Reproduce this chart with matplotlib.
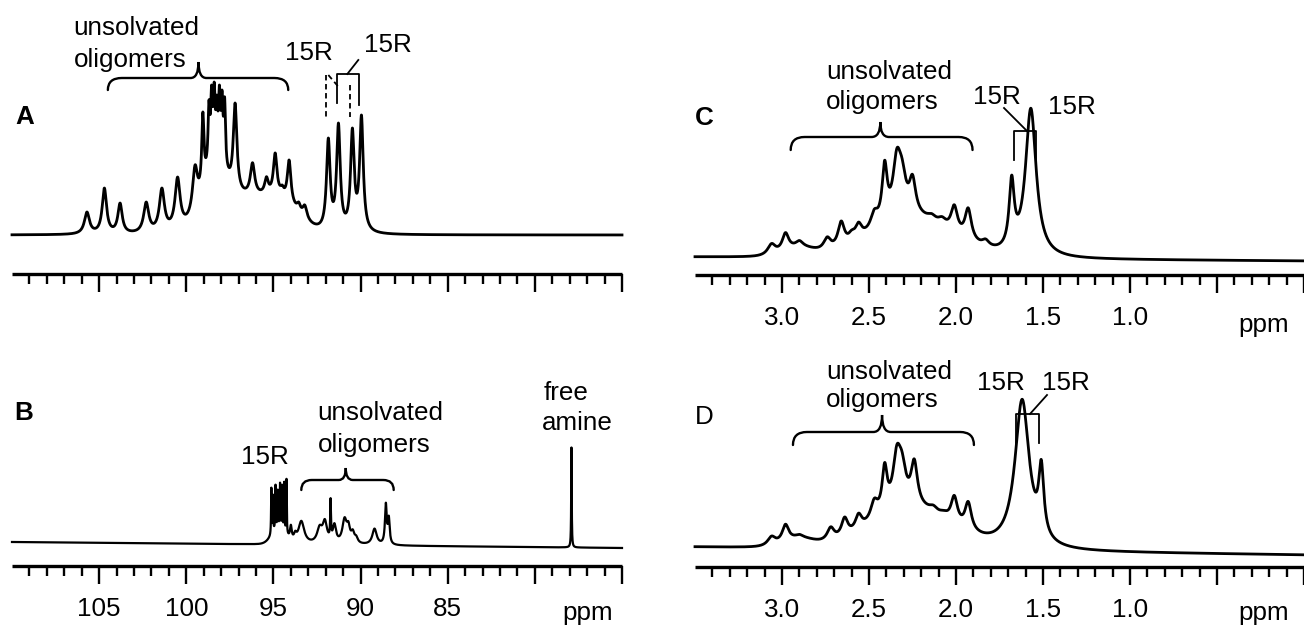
import matplotlib
matplotlib.use("Agg")
import matplotlib.pyplot as plt
import numpy as np
from matplotlib.path import Path
from matplotlib.patches import PathPatch
from matplotlib.ticker import FixedLocator

plt.rcParams['font.family'] = ['Liberation Sans', 'DejaVu Sans']

# ---- peak tables (ppm, apparent height above baseline, line width in ppm) ----
# 13C, panel A
a_ppm = [105.7, 104.7, 103.8, 102.3, 101.4, 100.5, 99.5, 99.05, 98.7, 98.55, 98.4, 98.25,
         98.1, 97.95, 97.8, 97.2, 96.2, 95.8, 95.4, 94.9, 94.5, 94.1, 93.55, 93.2,
         91.85, 91.27, 90.47, 89.95]
a_height = [23, 47, 32, 33, 47, 58, 70, 123, 135, 150, 153, 140, 150, 145,
            138, 132, 72, 42, 58, 82, 50, 75, 33, 30,
            97, 112, 107, 120]
a_width = [0.35, 0.3, 0.3, 0.35, 0.35, 0.35, 0.35, 0.15, 0.12, 0.12, 0.12, 0.12, 0.12, 0.12,
           0.12, 0.25, 0.3, 0.25, 0.25, 0.25, 0.25, 0.25, 0.25, 0.3,
           0.25, 0.25, 0.25, 0.25]
a_hump_ppm = [97.0, 94.5, 98.4]
a_hump_height = [35, 22, 45]
a_hump_width = [4.0, 2.5, 1.4]

# 13C, panel B
b_ppm = [95.12, 95.03, 94.88, 94.75, 94.62, 94.50, 94.38, 94.25,
         94.0, 93.75, 93.4, 92.35, 92.05, 91.72, 91.5,
         90.92, 90.7, 90.45, 90.25, 89.2, 88.55, 88.38, 77.9]
b_height = [57, 50, 60, 55, 62, 60, 63, 66,
            20, 14, 24, 20, 26, 47, 22,
            28, 24, 16, 10, 17, 43, 30, 100]
b_width = [0.035, 0.035, 0.035, 0.035, 0.035, 0.035, 0.035, 0.035,
           0.12, 0.18, 0.4, 0.35, 0.3, 0.05, 0.22,
           0.3, 0.22, 0.22, 0.22, 0.3, 0.12, 0.12, 0.035]
b_hump_ppm = [94.7]
b_hump_height = [16]
b_hump_width = [0.9]
b_drift = [0, -6]

# 1H, panel C
c_ppm = [3.06, 2.98, 2.90, 2.84, 2.74, 2.66, 2.60, 2.56, 2.47, 2.41, 2.34, 2.31,
         2.25, 2.14, 2.08, 2.01, 1.93, 1.83, 1.68, 1.57]
c_height = [14, 25, 17, 10, 21, 37, 28, 36, 49, 98, 110, 100,
            84, 45, 42, 54, 51, 20, 84, 151]
c_width = [0.055, 0.045, 0.05, 0.05, 0.05, 0.045, 0.045, 0.045, 0.05, 0.035, 0.055, 0.055,
           0.045, 0.055, 0.055, 0.045, 0.045, 0.05, 0.035, 0.075]
c_hump_ppm = [2.25, 2.9]
c_hump_height = [38, 8]
c_hump_width = [0.55, 0.2]
c_drift = [0, -4]

# 1H, panel D
d_ppm = [3.06, 2.98, 2.90, 2.72, 2.64, 2.56, 2.47, 2.41, 2.34, 2.31,
         2.24, 2.13, 2.07, 2.01, 1.93, 1.83, 1.62, 1.51]
d_height = [12, 24, 14, 22, 32, 36, 51, 87, 105, 98,
            91, 45, 40, 55, 49, 15, 152, 92]
d_width = [0.055, 0.045, 0.05, 0.05, 0.045, 0.045, 0.05, 0.035, 0.055, 0.055,
           0.045, 0.055, 0.055, 0.045, 0.045, 0.05, 0.1, 0.035]
d_hump_ppm = [2.25, 2.9]
d_hump_height = [38, 8]
d_hump_width = [0.55, 0.2]
d_drift = [0, -8]

W, H = 1304, 629
FS = 18.7


def lorentz(x, c, w):
    return 1.0 / (1.0 + ((x - c) / (w / 2.0)) ** 2)


def gauss(x, c, w):
    s = w / 2.3548
    return np.exp(-0.5 * ((x - c) / s) ** 2)


def spectrum(grid, ppm, height, width, hppm, hheight, hwidth, drift=(0, 0)):
    ppm, height, width = map(np.asarray, (ppm, height, width))
    bg = sum(h * gauss(grid, c, w) for c, h, w in zip(hppm, hheight, hwidth))
    bg_c = sum(h * gauss(ppm, c, w) for c, h, w in zip(hppm, hheight, hwidth))
    M = lorentz(ppm[:, None], ppm[None, :], width[None, :])
    amp = np.clip(np.linalg.solve(M, height - bg_c), 0, None)
    y = bg + (amp[None, :] * lorentz(grid[:, None], ppm[None, :], width[None, :])).sum(axis=1)
    return y + np.linspace(drift[0], drift[1], len(grid))


def panel(fig, left, right, axis_y, top_y, base_y, xlim, majors, labels, minors):
    ax = fig.add_axes([left / W, 1 - axis_y / H, (right - left) / W, (axis_y - top_y) / H])
    ax.patch.set_alpha(0)
    ax.set_xlim(*xlim)
    ax.set_ylim(-(axis_y - base_y), base_y - top_y)
    for s in ('top', 'left', 'right'):
        ax.spines[s].set_visible(False)
    ax.spines['bottom'].set_linewidth(2.4)
    ax.spines['bottom'].set_capstyle('butt')
    ax.yaxis.set_visible(False)
    ax.xaxis.set_major_locator(FixedLocator(majors))
    ax.xaxis.set_minor_locator(FixedLocator(minors))
    ax.set_xticklabels(labels, fontsize=FS)
    ax.tick_params(axis='x', which='major', direction='out', length=13, width=1.7, pad=9)
    ax.tick_params(axis='x', which='minor', direction='out', length=7.5, width=1.7)
    return ax


def brace(ax, x0, x1, xt, y_end, y_arm, y_tip, r_end, r_tip):
    sgn = 1 if x1 > x0 else -1
    verts = [(x0, y_end), (x0, y_arm), (x0 + sgn * r_end, y_arm),
             (xt - sgn * r_tip, y_arm), (xt, y_arm), (xt, y_tip),
             (xt, y_arm), (xt + sgn * r_tip, y_arm),
             (x1 - sgn * r_end, y_arm), (x1, y_arm), (x1, y_end)]
    codes = [Path.MOVETO, Path.CURVE3, Path.CURVE3,
             Path.LINETO, Path.CURVE3, Path.CURVE3,
             Path.CURVE3, Path.CURVE3,
             Path.LINETO, Path.CURVE3, Path.CURVE3]
    ax.add_patch(PathPatch(Path(verts, codes), fill=False, lw=1.7, color='black',
                           clip_on=False, capstyle='round'))


fig = plt.figure(figsize=(W / 100, H / 100), dpi=100)

c13_major = [105, 100, 95, 90, 85, 80, 75]
c13_labels = ['105', '100', '95', '90', '85', '', '']
c13_minor = [v for v in range(76, 110) if v % 5]
h1_major = [3.0, 2.5, 2.0, 1.5, 1.0, 0.5, 0.0]
h1_labels = ['3.0', '2.5', '2.0', '1.5', '1.0', '', '']
h1_minor = [round(0.1 * k, 1) for k in range(1, 35) if k % 5]

grid13 = np.linspace(110, 75, 20000)
grid1 = np.linspace(3.5, 0.0, 20000)
line = dict(color='black', lw=2.0, clip_on=False, solid_joinstyle='round')
thin = dict(color='black', lw=1.3, clip_on=False)

# ---- A ----
axA = panel(fig, 12, 622, 274, 0, 235, (110, 75), c13_major, [''] * 7, c13_minor)
axA.plot(grid13, spectrum(grid13, a_ppm, a_height, a_width, a_hump_ppm, a_hump_height, a_hump_width), **line)
axA.text(109.25, 118, 'A', fontsize=FS, fontweight='bold', ha='center', va='center')
axA.text(102.85, 207, 'unsolvated', fontsize=FS, ha='center', va='center')
axA.text(103.2, 175, 'oligomers', fontsize=FS, ha='center', va='center')
brace(axA, 104.5, 94.15, 99.3, 145, 157, 173, 0.8, 0.45)
axA.text(92.95, 182, '15R', fontsize=FS, ha='center', va='center')
axA.text(88.45, 190, '15R', fontsize=FS, ha='center', va='center')
dash = dict(color='black', lw=1.3, ls=(0, (3, 2)), clip_on=False)
axA.plot([91.96, 91.96], [160, 118], **dash)
axA.plot([90.6, 90.6], [150, 118], **dash)
axA.plot([91.85, 91.21], [160, 147], **dash)
axA.plot([91.33, 91.33, 90.07, 90.07], [132, 161, 161, 130], **thin)
axA.plot([90.76, 90.13], [161, 175], **thin)

# ---- B ----
axB = panel(fig, 12, 622, 566, 300, 542, (110, 75), c13_major, c13_labels, c13_minor)
axB.plot(grid13, spectrum(grid13, b_ppm, b_height, b_width, b_hump_ppm, b_hump_height, b_hump_width, b_drift),
         color='black', lw=1.6, clip_on=False)
axB.text(109.35, 129, 'B', fontsize=FS, fontweight='bold', ha='center', va='center')
axB.text(95.5, 85, '15R', fontsize=FS, ha='center', va='center')
axB.text(88.85, 129, 'unsolvated', fontsize=FS, ha='center', va='center')
axB.text(89.2, 97, 'oligomers', fontsize=FS, ha='center', va='center')
brace(axB, 93.4, 88.1, 90.85, 52, 62, 74, 0.6, 0.4)
axB.text(78.2, 149, 'free', fontsize=FS, ha='center', va='center')
axB.text(77.55, 119, 'amine', fontsize=FS, ha='center', va='center')
axB.annotate('ppm', xy=(76.95, 0), xycoords=('data', 'axes fraction'), xytext=(0, -34),
             textcoords='offset points', fontsize=FS, ha='center', va='center')

# ---- C ----
axC = panel(fig, 695, 1304, 275, 0, 257, (3.5, 0.0), h1_major, h1_labels, h1_minor)
axC.plot(grid1, spectrum(grid1, c_ppm, c_height, c_width, c_hump_ppm, c_hump_height, c_hump_width, c_drift), **line)
axC.text(3.445, 139, 'C', fontsize=FS, fontweight='bold', ha='center', va='center')
axC.text(2.385, 185, 'unsolvated', fontsize=FS, ha='center', va='center')
axC.text(2.425, 155, 'oligomers', fontsize=FS, ha='center', va='center')
brace(axC, 2.95, 1.905, 2.435, 107, 120, 135, 0.08, 0.05)
axC.text(1.764, 160, '15R', fontsize=FS, ha='center', va='center')
axC.text(1.333, 150, '15R', fontsize=FS, ha='center', va='center')
axC.plot([1.667, 1.667, 1.540, 1.540], [97, 126, 126, 97], **thin)
axC.plot([1.724, 1.592], [149, 126], **thin)
axC.annotate('ppm', xy=(0.23, 0), xycoords=('data', 'axes fraction'), xytext=(0, -36),
             textcoords='offset points', fontsize=FS, ha='center', va='center')

# ---- D ----
axD = panel(fig, 695, 1304, 567, 330, 547, (3.5, 0.0), h1_major, h1_labels, h1_minor)
axD.plot(grid1, spectrum(grid1, d_ppm, d_height, d_width, d_hump_ppm, d_hump_height, d_hump_width, d_drift), **line)
axD.text(3.445, 130, 'D', fontsize=FS, ha='center', va='center')
axD.text(2.385, 175, 'unsolvated', fontsize=FS, ha='center', va='center')
axD.text(2.425, 147, 'oligomers', fontsize=FS, ha='center', va='center')
brace(axD, 2.937, 1.897, 2.425, 102, 115, 132, 0.08, 0.05)
axD.text(1.741, 164, '15R', fontsize=FS, ha='center', va='center')
axD.text(1.368, 164, '15R', fontsize=FS, ha='center', va='center')
axD.plot([1.655, 1.655, 1.523, 1.523], [104, 133, 133, 104], **thin)
axD.plot([1.575, 1.477], [133, 152], **thin)
axD.annotate('ppm', xy=(0.23, 0), xycoords=('data', 'axes fraction'), xytext=(0, -33),
             textcoords='offset points', fontsize=FS, ha='center', va='center')

fig.savefig('out.png', dpi=100)
